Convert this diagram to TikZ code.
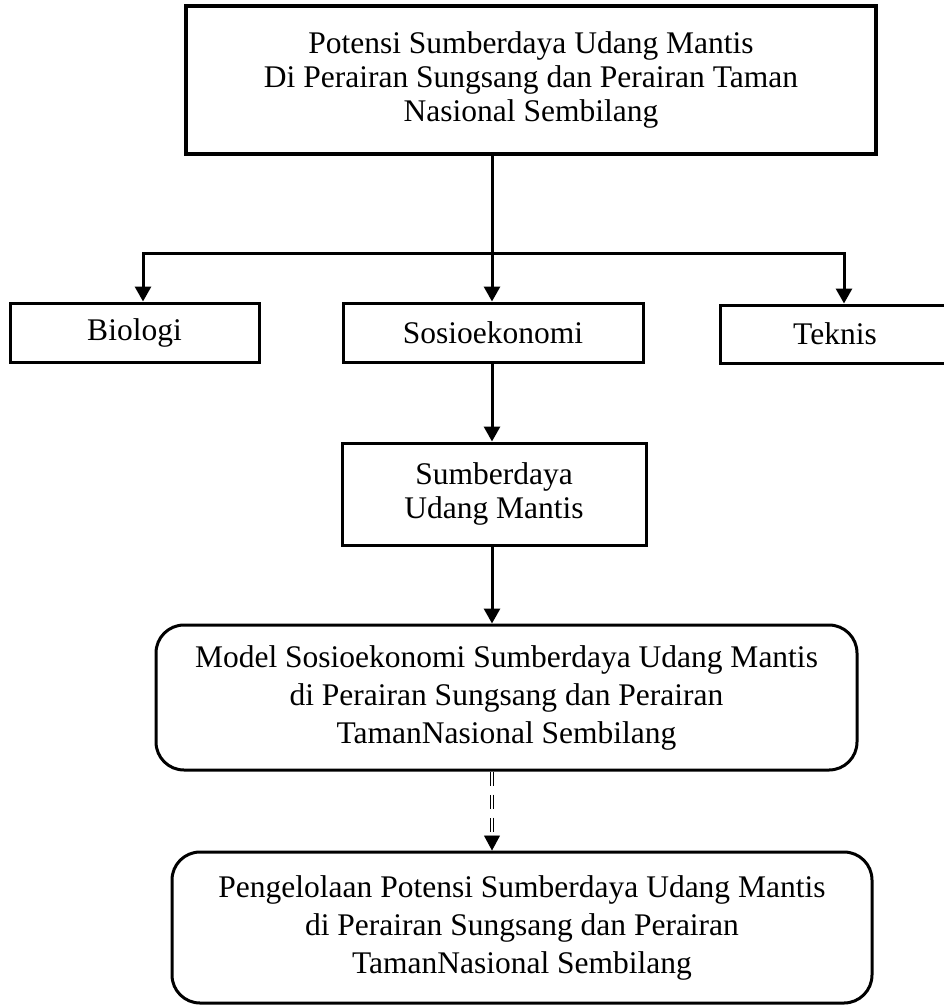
\documentclass[tikz,border=0pt]{standalone}
\usepackage{fontspec}
\setmainfont{Liberation Serif}
\usetikzlibrary{arrows.meta}

\begin{document}
\begin{tikzpicture}[x=1pt, y=-1pt, >={Triangle[width=16pt,length=15pt]},
    box/.style={draw, line width=3pt, inner sep=0pt, align=center, font=\fontsize{31.5}{34}\selectfont},
    roundbox/.style={box, rounded corners=28pt, font=\fontsize{31.5}{38}\selectfont},
    link/.style={->, line width=3pt},
    dbllink/.style={->, double, double distance=2.5pt, line width=0.9pt, dash pattern=on 14pt off 9pt}]
    \useasboundingbox (0,0) rectangle (944,1007);
    \node[box, line width=4pt, minimum width=690pt, minimum height=148pt] (potensi) at (531,80) {Potensi Sumberdaya Udang Mantis\\Di Perairan Sungsang dan Perairan Taman\\Nasional Sembilang};
    \node[box, minimum width=249pt, minimum height=59pt] (biologi) at (134.5,332.5) {Biologi};
    \node[box, minimum width=300pt, minimum height=59pt] (sosio) at (493,332.5) {Sosioekonomi};
    \node[box, minimum width=230pt, minimum height=58pt] (teknis) at (835,334) {Teknis};
    \node[box, minimum width=304pt, minimum height=102pt] (sumber) at (494,494) {Sumberdaya\\Udang Mantis};
    \node[roundbox, minimum width=701pt, minimum height=145pt] (model) at (506.5,697.5) {Model Sosioekonomi Sumberdaya Udang Mantis\\di Perairan Sungsang dan Perairan\\TamanNasional Sembilang};
    \node[roundbox, minimum width=700pt, minimum height=151pt] (kelola) at (522,927.5) {Pengelolaan Potensi Sumberdaya Udang Mantis\\di Perairan Sungsang dan Perairan\\TamanNasional Sembilang};
    % branch points
    \coordinate (split) at (492,253);
    \coordinate (bl) at (143,253);
    \coordinate (tr) at (844,253);
    \draw[line width=3pt] (potensi.south -| split) -- (split);
    \draw[line width=3pt, line cap=rect] (bl) -- (tr);
    \draw[link] (bl) -- (bl |- biologi.north);
    \draw[link] (split) -- (split |- sosio.north);
    \draw[link] (tr) -- (tr |- teknis.north);
    \draw[link] (sosio.south -| split) -- (sumber.north -| split);
    \draw[link] (sumber.south -| split) -- (model.north -| split);
    \draw[dbllink] (model.south -| split) -- (kelola.north -| split);
\end{tikzpicture}
\end{document}
